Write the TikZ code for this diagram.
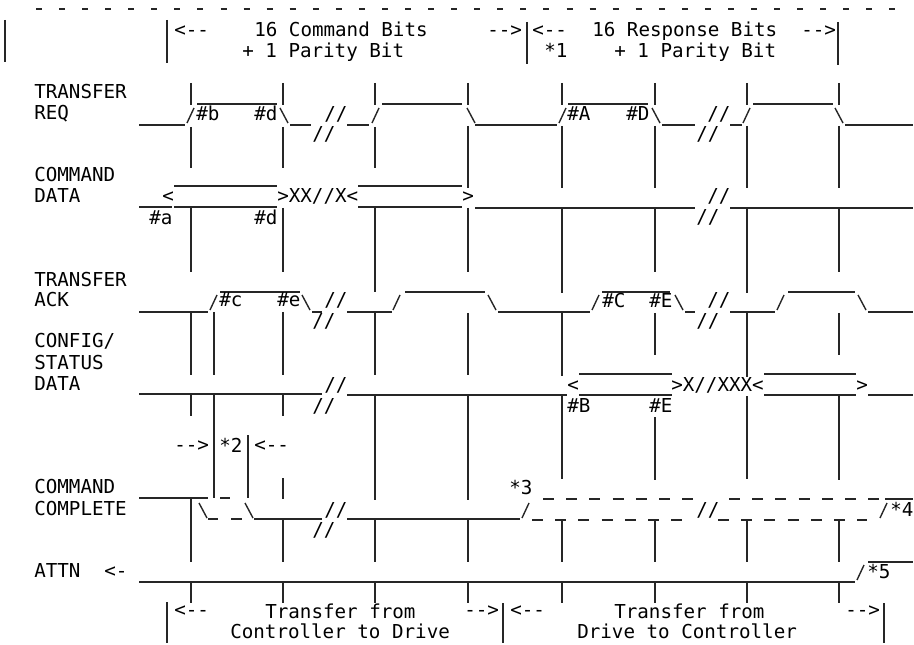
\documentclass[tikz,border=0pt]{standalone}
\usepackage{fontspec}
\setmonofont{DejaVu Sans Mono}
\usepackage{tikz}
\usetikzlibrary{positioning}

\begin{document}
\begin{tikzpicture}[
  x=0.75pt, y=-0.75pt,
  txt/.style={font=\ttfamily\fontsize{14.4}{14.4}\selectfont, inner sep=0pt, anchor=base west, text=black},
  guide/.style={line width=1.05pt, black!85},
  sig/.style={line width=1.05pt, black!85},
  dsig/.style={sig, dash pattern=on 8.2pt off 9.2pt}
]
\useasboundingbox (0,0) rectangle (914,645);

% top rule and header bars
\draw[line width=1.2pt, black!85, dash pattern=on 4.5pt off 12.8pt] (36,9) -- (900,9);
\foreach \x/\a/\b in {5/20/62, 167/20/63, 527/22/64, 838/22/65, 167/602/643, 503/603/643, 884/603/643}
  \draw[guide] (\x,\a) -- (\x,\b);

% vertical guides
\foreach \x in {191,283,375}
  \draw[guide] (\x,83) -- (\x,105) (\x,127) -- (\x,168);
\foreach \x in {468,562,655,747,839}
  \draw[guide] (\x,83) -- (\x,105) (\x,126) -- (\x,188);
\foreach \x/\b in {191/272, 283/272, 375/292, 468/272, 562/293, 655/272, 747/293, 839/272}
  \draw[guide] (\x,208) -- (\x,\b);
\foreach \x/\a/\b in {191/312/375, 214/312/375, 283/312/375, 375/312/375, 468/313/375,
                      562/313/376, 655/313/355, 747/313/377, 839/313/355}
  \draw[guide] (\x,\a) -- (\x,\b);
\foreach \x/\a/\b in {191/395/416, 214/395/498, 283/395/416, 283/478/499, 248/435/498,
                      375/395/500, 468/395/500, 562/395/479, 655/417/480, 747/396/479, 839/396/480}
  \draw[guide] (\x,\a) -- (\x,\b);
\foreach \x/\a in {191/498, 283/520, 375/520, 468/520, 562/520, 655/520, 747/520, 839/520}
  \draw[guide] (\x,\a) -- (\x,562);
\foreach \x in {191,283,375,468,562,655,747,839}
  \draw[guide] (\x,582) -- (\x,603);

% level lines
\foreach \y/\a/\b in {
  125/139/185, 104/197/277, 125/290/311, 125/347/369, 104/382/462, 125/475/557,
  104/568/648, 125/662/695, 125/730/742, 104/753/833, 125/845/913,
  207/139/172, 186/174/277, 207/174/277, 186/358/462, 207/358/462, 208/475/695, 208/730/913,
  312/139/208, 292/220/300, 312/312/322, 312/347/392, 292/405/485, 312/498/590,
  292/602/670, 312/685/695, 312/730/775, 292/788/855, 312/868/913,
  394/139/322, 395/347/567, 374/579/672, 395/579/672, 374/764/856, 395/764/856, 395/868/913,
  498/139/208, 498/220/230, 519/254/322, 519/347/520, 499/885/913,
  582/139/855, 562/868/913}
  \draw[sig] (\a,\y) -- (\b,\y);
\foreach \y/\a/\b in {519/208/218, 519/231/242}
  \draw[sig] (\a,\y) -- (\b,\y);
\foreach \y/\a/\b in {499/543/695, 499/729/880, 520/532/682, 520/718/867}
  \draw[dsig] (\a,\y) -- (\b,\y);

% edges
\foreach \x/\y in {187/123, 372/123, 559/123, 743/123, 210/310, 393/310, 592/310, 777/310, 522/518, 880/518, 857/580}
  \draw[sig] (\x,\y) -- ++(7,-15);
\foreach \x/\y in {280/108, 467/108, 652/108, 835/108, 302/295, 488/295, 675/295, 858/295, 199/503, 245/503}
  \draw[sig] (\x,\y) -- ++(8,15);

% break marks
\foreach \x/\y in {324/121, 312/141, 707/121, 696/141, 707/203, 696/224, 324/307, 312/328, 707/307, 696/328,
                   324/391, 312/412, 324/516, 312/536, 696/516}
  \node[txt] at (\x,\y) {//};

% signal names
\node[txt] (reqa) at (34,99) {TRANSFER};
\node[txt] (reqb) at (34,120) {REQ};
\node[txt] (cmda) at (34,182) {COMMAND};
\node[txt] (cmdb) at (34,203) {DATA};
\node[txt] (acka) at (34,287) {TRANSFER};
\node[txt] (ackb) at (34,307) {ACK};
\node[txt] (cfga) at (34,348) {CONFIG/};
\node[txt] (cfgb) at (34,369) {STATUS};
\node[txt] (cfgc) at (34,390) {DATA};
\node[txt] (cpla) at (34,493) {COMMAND};
\node[txt] (cplb) at (34,515) {COMPLETE};
\node[txt] (attn) at (34,577) {ATTN};
\node[txt] (attnar) at (104,577) {<-};

% header
\node[txt] (cmdl) at (174,37) {<--};
\node[txt] (cmdt) at (254,37) {16 Command Bits};
\node[txt] (cmdp) at (242,58) {+ 1 Parity Bit};
\node[txt] (cmdr) at (487,37) {-->};
\node[txt] (rspl) at (532,37) {<--};
\node[txt] (rspt) at (592,37) {16 Response Bits};
\node[txt] (rspp) at (614,58) {+ 1 Parity Bit};
\node[txt] (rspr) at (801,37) {-->};
\node[txt] (nta) at (544,58) {*1};

% timing marks
\node[txt] (tb) at (196,121) {\#b};
\node[txt] (td) at (254,121) {\#d};
\node[txt] (tA) at (567,121) {\#A};
\node[txt] (tD) at (626,121) {\#D};
\node[txt] (ta) at (149,225) {\#a};
\node[txt] (tdd) at (254,225) {\#d};
\node[txt] (tc) at (219,307) {\#c};
\node[txt] (te) at (277,307) {\#e};
\node[txt] (tC) at (602,308) {\#C};
\node[txt] (tE) at (649,308) {\#E};
\node[txt] (tB) at (567,412) {\#B};
\node[txt] (tEE) at (649,412) {\#E};

% data edges
\node[txt] (dla) at (162,203) {<};
\node[txt] (dxa) at (277,203) {>XX//X<};
\node[txt] (dra) at (462,203) {>};
\node[txt] (dlb) at (567,391) {<};
\node[txt] (dxb) at (671,391) {>X//XXX<};
\node[txt] (drb) at (856,391) {>};

% notes
\node[txt] (ntbl) at (174,451) {-->};
\node[txt] (ntb) at (219,452) {*2};
\node[txt] (ntbr) at (254,451) {<--};
\node[txt] (ntc) at (509,494) {*3};
\node[txt] (ntd) at (890,516) {*4};
\node[txt] (nte) at (867,578) {*5};

% footer
\node[txt] (ftal) at (174,616) {<--};
\node[txt] (fta) at (265,618) {Transfer from};
\node[txt] (ftb) at (230,638) {Controller to Drive};
\node[txt] (ftar) at (464,616) {-->};
\node[txt] (ftbl) at (510,616) {<--};
\node[txt] (ftc) at (614,618) {Transfer from};
\node[txt] (ftd) at (577,638) {Drive to Controller};
\node[txt] (ftbr) at (845,616) {-->};

\end{tikzpicture}
\end{document}
